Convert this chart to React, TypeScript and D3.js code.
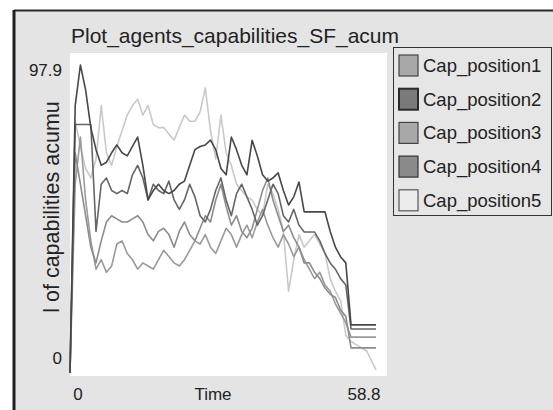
import React from "react";
import * as d3 from "d3";

const times = [0,1,2,3,4,5,6,7,8,9,10,11,12,13,14,15,16,17,18,19,20,21,22,23,24,25,26,27,28,29,30,31,32,33,34,35,36,37,38,39,40,41,42,43,44,45,46,47,48,49,50,51,52,53,54,55,56,57,58.8];

const capPosition1 = [0,70,60,50,40,35,42,48,50,49,48,48,49,50,48,44,42,45,46,44,40,45,48,44,42,46,50,48,55,60,53,47,50,45,43,46,52,58,62,55,50,45,47,43,40,35,35,32,30,27,25,24,20,18,8,8,8,8,8];
const capPosition2 = [0,85,97.9,90,78,71,66,67,70,72.5,70,69,72,75,66,55,58,60,58,57,58,60,61,66,71,72,72.5,74,71,65,63,75,71,66,63,74,69,63,61,62,63.6,58,53.4,56,60.7,51.2,51.2,51.2,51.2,51.2,45,40,36.9,35,15.3,15.3,15.3,15.3,15.3];
const capPosition3 = [0,60,75,55,42,33,36,32,34,41,42,38,36,33,35,34,33,36,39,37,35,34,36,39,42,41,44,40,38,42,46,44,40,44,47,43,48,52,47,43,40,44,41,37,40,36,33,30,32,28,26,22,19,16,11.4,11.4,11.4,11.4,11.4];
const capPosition4 = [0,79,79,79,79,45,60,62,58,57,58,57,63,66,62,55,60,58,57,61,55,52,55,60,56,50,48,52,58,62,55,50,57,60,56,52,47,50,55,60,57,50,48,52,47,44.8,44.8,44.8,42,38,35,33,30,28,14,14,14,14,14];
const capPosition5 = [0,80,72,65,62,68,85,70,66,72,77,82,85,87,82,85,79,78,78,76,74,78,82,80,80,83,90.6,77,68,82,70,66,60,58,56,55,52,50,60,57,52,45,26,36,44,40,42,44,41,38,30,26,23,12,10,9,8,7,1];

const seriesNames = ["Cap_position1","Cap_position2","Cap_position3","Cap_position4","Cap_position5"];
const seriesValues = [capPosition1, capPosition2, capPosition3, capPosition4, capPosition5];
const lineColors = ["#8c8c8c","#474747","#9a9a9a","#666666","#c9c9c9"];
const swatchFill = ["#a8a8a8","#7a7a7a","#a8a8a8","#8a8a8a","#ececec"];
const swatchStroke = ["#444","#2a2a2a","#444","#333","#555"];
const drawOrder = [4,2,0,3,1];

const xTicks = [0, 58.8];
const yTicks = [0, 97.9];

export default function App() {
  const W = 553, H = 410;
  const x = d3.scaleLinear().domain([0, 58.8]).range([70, 376]);
  const y = d3.scaleLinear().domain([0, 97.9]).range([373, 65]);
  const line = d3.line<number>().x((_, i) => x(times[i])).y(d => y(d));
  const font = "'Liberation Sans', Arial, sans-serif";

  return (
    <svg width={W} height={H} style={{ position: "absolute", left: 0, top: 0 }} fontFamily={font}>
      <rect x={0} y={0} width={W} height={H} fill="#ffffff" />
      <rect x={14} y={10} width={W - 14} height={H - 10} fill="#e4e4e4" />
      <line x1={14} y1={10.5} x2={W} y2={10.5} stroke="#2a2a2a" strokeWidth={2} />
      <line x1={14} y1={10} x2={14} y2={H} stroke="#1e1e1e" strokeWidth={3} />
      <rect x={70} y={53} width={317} height={323} fill="#ffffff" />
      <text x={71} y={43} fontSize={21} fill="#222">Plot_agents_capabilities_SF_acum</text>
      {drawOrder.map(i => (
        <path key={seriesNames[i]} d={line(seriesValues[i]) || ""} fill="none" stroke={lineColors[i]} strokeWidth={1.6} strokeLinejoin="round" />
      ))}
      {yTicks.map(t => (
        <text key={"y" + t} x={62} y={y(t) + (t === 0 ? -15 : 5) + 6} fontSize={17} textAnchor="end" fill="#222">{t}</text>
      ))}
      {xTicks.map(t => (
        <text key={"x" + t} x={t === 0 ? 78 : 364} y={400} fontSize={17} textAnchor="middle" fill="#222">{t}</text>
      ))}
      <text x={213} y={400} fontSize={17} textAnchor="middle" fill="#222">Time</text>
      <text transform="translate(59,207) rotate(-90)" fontSize={21.5} textAnchor="middle" fill="#222">l of capabilities acumu</text>
      <rect x={393.5} y={47.5} width={158} height={168} fill="#e6e6e6" stroke="#333" strokeWidth={1} />
      {seriesNames.map((n, i) => (
        <g key={n}>
          <rect x={399} y={55 + i * 33.7} width={19} height={21} fill={swatchFill[i]} stroke={swatchStroke[i]} strokeWidth={i === 1 ? 2 : 1.2} />
          <text x={423} y={72 + i * 33.7} fontSize={18.5} fill="#222">{n}</text>
        </g>
      ))}
    </svg>
  );
}
